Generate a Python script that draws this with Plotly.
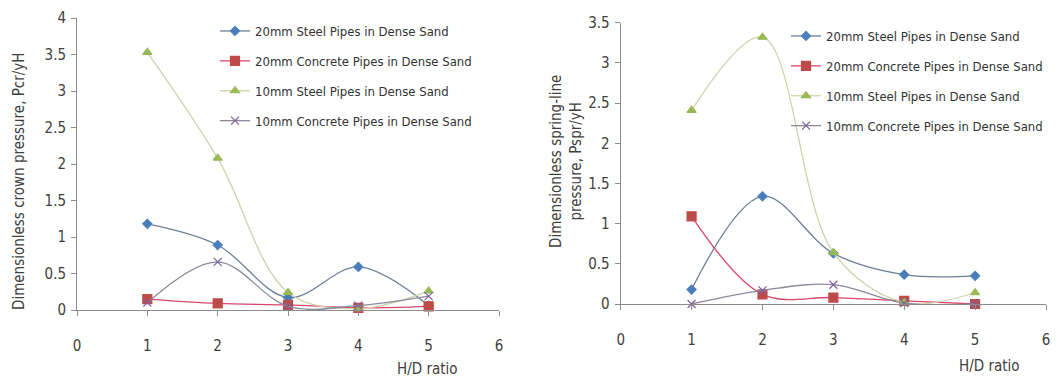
import plotly.graph_objects as go

# ---------------- data ----------------
hd_ratio = [1, 2, 3, 4, 5]
series_names = [
    "20mm Steel Pipes in Dense Sand",
    "20mm Concrete Pipes in Dense Sand",
    "10mm Steel Pipes in Dense Sand",
    "10mm Concrete Pipes in Dense Sand",
]
# Left chart: dimensionless crown pressure
crown_steel20 = [1.18, 0.89, 0.17, 0.59, 0.06]
crown_concrete20 = [0.15, 0.09, 0.07, 0.03, 0.05]
crown_steel10 = [3.53, 2.08, 0.24, 0.02, 0.26]
crown_concrete10 = [0.10, 0.66, 0.05, 0.06, 0.19]
# Right chart: dimensionless spring-line pressure
spring_steel20 = [0.18, 1.34, 0.63, 0.365, 0.35]
spring_concrete20 = [1.09, 0.12, 0.08, 0.04, 0.0]
spring_steel10 = [2.41, 3.32, 0.64, 0.02, 0.14]
spring_concrete10 = [0.0, 0.17, 0.24, 0.01, 0.0]

x_ticks = [0, 1, 2, 3, 4, 5, 6]
left_y_ticks = [0, 0.5, 1, 1.5, 2, 2.5, 3, 3.5, 4]
right_y_ticks = [0, 0.5, 1, 1.5, 2, 2.5, 3, 3.5]

# ---------------- styles ----------------
FONT = "Liberation Sans Narrow, DejaVu Sans Condensed, Arial Narrow, sans-serif"
marker_colors = ["#4a7ebb", "#be4b48", "#98b954", "#7d60a0"]
line_colors = ["#6d7f98", "#d9466a", "#cfd2a8", "#8a8a9c"]
symbols = ["diamond", "square", "triangle-up", "x-thin"]
sizes = [7, 9, 8, 8]

fig = go.Figure()

left_data = [crown_steel20, crown_concrete20, crown_steel10, crown_concrete10]
right_data = [spring_steel20, spring_concrete20, spring_steel10, spring_concrete10]

for i, (name, ys) in enumerate(zip(series_names, left_data)):
    fig.add_trace(go.Scatter(
        x=hd_ratio, y=ys, name=name, mode="lines+markers",
        line=dict(color=line_colors[i], width=1.3, shape="spline", smoothing=1.0),
        marker=dict(symbol=symbols[i], size=sizes[i], color=marker_colors[i],
                    line=dict(color=marker_colors[i], width=1.2)),
        xaxis="x", yaxis="y", legend="legend", legendgroup="L%d" % i,
        cliponaxis=False,
    ))

for i, (name, ys) in enumerate(zip(series_names, right_data)):
    fig.add_trace(go.Scatter(
        x=hd_ratio, y=ys, name=name, mode="lines+markers",
        line=dict(color=line_colors[i], width=1.3, shape="spline", smoothing=1.0),
        marker=dict(symbol=symbols[i], size=sizes[i], color=marker_colors[i],
                    line=dict(color=marker_colors[i], width=1.2)),
        xaxis="x2", yaxis="y2", legend="legend2", legendgroup="R%d" % i,
        cliponaxis=False,
    ))

W, H = 1059, 379
axis_common = dict(
    showgrid=False, zeroline=False, showline=True, linecolor="#8c8c8c", linewidth=1,
    ticks="outside", ticklen=5, tickcolor="#8c8c8c", automargin=False,
    tickfont=dict(family=FONT, size=15, color="#404040"),
)

fig.update_layout(
    width=W, height=H,
    margin=dict(l=0, r=0, t=0, b=0, pad=0, autoexpand=False),
    paper_bgcolor="white", plot_bgcolor="white",
    font=dict(family=FONT, size=14, color="#404040"),
    xaxis=dict(domain=[77 / W, 499 / W], range=[0, 6], tickvals=x_ticks,
               anchor="y", ticklabelstandoff=17, **axis_common),
    yaxis=dict(domain=[1 - 310 / H, 1 - 18 / H], range=[0, 4], tickvals=left_y_ticks,
               anchor="x", ticklabelstandoff=2, **axis_common),
    xaxis2=dict(domain=[620.7 / W, 1046 / W], range=[0, 6], tickvals=x_ticks,
                anchor="y2", ticklabelstandoff=17, **axis_common),
    yaxis2=dict(domain=[1 - 304 / H, 1 - 22.7 / H], range=[0, 3.5], tickvals=right_y_ticks,
                anchor="x2", ticklabelstandoff=2, **axis_common),
    legend=dict(x=215 / W, y=1 - 16 / H, xanchor="left", yanchor="top",
                bgcolor="rgba(0,0,0,0)", tracegroupgap=10,
                font=dict(family=FONT, size=13, color="#333333")),
    legend2=dict(x=786 / W, y=1 - 21 / H, xanchor="left", yanchor="top",
                 bgcolor="rgba(0,0,0,0)", tracegroupgap=10,
                 font=dict(family=FONT, size=13, color="#333333")),
    showlegend=True,
)

annotations = [
    dict(text="Dimensionless crown pressure, Pcr/yH", x=19, y=181, textangle=-90),
    dict(text="Dimensionless spring-line<br>pressure, Pspr/yH", x=566, y=162, textangle=-90),
    dict(text="H/D ratio", x=427, y=369, textangle=0),
    dict(text="H/D ratio", x=989, y=366, textangle=0),
]
for a in annotations:
    a["x"] = a["x"] / W
    a["y"] = 1 - a["y"] / H
    a.update(xref="paper", yref="paper", xanchor="center", yanchor="middle",
             showarrow=False, font=dict(family=FONT, size=15, color="#404040"))
fig.update_layout(annotations=annotations)

fig.write_html("out.html")
